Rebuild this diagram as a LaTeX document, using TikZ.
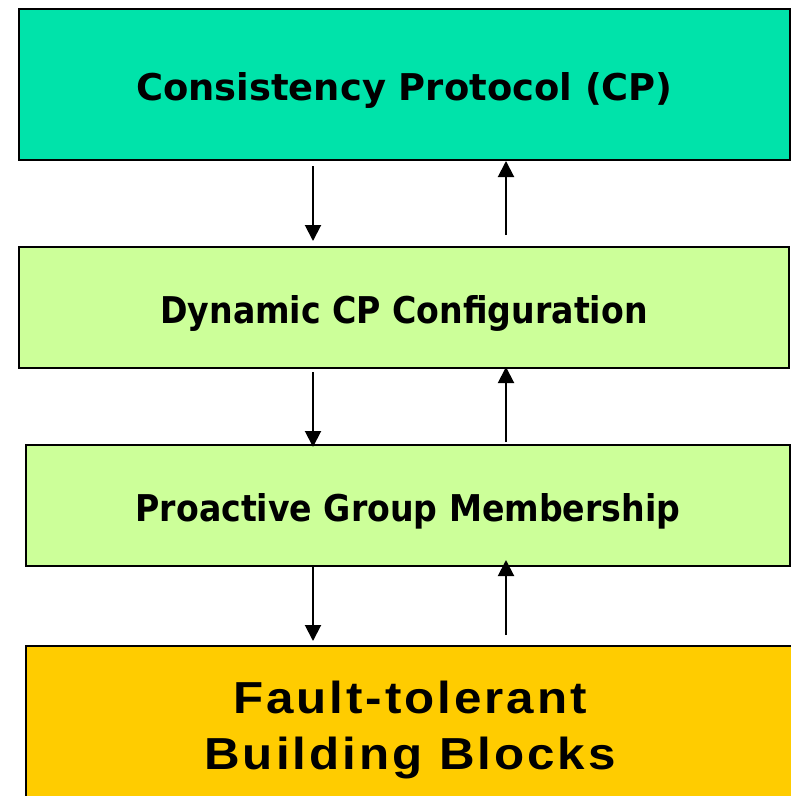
\documentclass[tikz,border=0pt]{standalone}
\usepackage{fontspec}
\usepackage{graphicx}
\setmainfont{DejaVu Sans}
\newfontfamily\narrowfont{DejaVu Sans Condensed}
\newfontfamily\blockfont[LetterSpace=6]{Liberation Sans}
\usetikzlibrary{arrows.meta}

\definecolor{cpteal}{RGB}{0,227,170}
\definecolor{layergreen}{RGB}{204,255,153}
\definecolor{basegold}{RGB}{255,204,0}

\tikzset{
  layer/.style={draw=black, line width=2.2bp, inner sep=0pt, outer sep=0pt,
    anchor=north west, align=center, text height=31bp, text depth=0pt,
    font=\fontsize{37}{44}\selectfont\bfseries},
  flow/.style={draw=black, line width=2bp,
    -{Triangle[width=16bp,length=16bp]}},
}

\begin{document}
\begin{tikzpicture}[x=1bp, y=-1bp]
  \useasboundingbox (0,0) rectangle (791,796);
  \clip (0,0) rectangle (791,796);

  % protocol stack, top to bottom
  \node[layer, fill=cpteal, minimum width=771bp, minimum height=151bp]
    (cp) at (19,9) {Consistency Protocol (CP)};
  \node[layer, fill=layergreen, minimum width=770bp, minimum height=121bp,
        font=\fontsize{37}{44}\selectfont\narrowfont\bfseries]
    (dyn) at (19,247) {Dynamic CP Configuration};
  \node[layer, fill=layergreen, minimum width=764bp, minimum height=121bp,
        font=\fontsize{37}{44}\selectfont\narrowfont\bfseries]
    (pgm) at (26,445) {Proactive Group Membership};
  \node[layer, fill=basegold, minimum width=768bp, minimum height=168bp,
        text height=, text depth=,
        font=\fontsize{45}{57}\selectfont\blockfont\bfseries]
    (ftbb) at (26,646)
    {\scalebox{1.1}[1]{Fault-tolerant}\\\scalebox{1.1}[1]{Building Blocks}};

  % columns for the downward and upward connectors
  \coordinate (downcol) at (313,0);
  \coordinate (upcol) at (506,0);

  \draw[flow] ([yshift=-6bp]cp.south -| downcol) -- ([yshift=6bp]dyn.north -| downcol);
  \draw[flow] ([yshift=12bp]dyn.north -| upcol) -- ([yshift=-1bp]cp.south -| upcol);

  \draw[flow] ([yshift=-4bp]dyn.south -| downcol) -- ([yshift=-2bp]pgm.north -| downcol);
  \draw[flow] ([yshift=3bp]pgm.north -| upcol) -- ([yshift=1bp]dyn.south -| upcol);

  \draw[flow] (pgm.south -| downcol) -- ([yshift=5bp]ftbb.north -| downcol);
  \draw[flow] ([yshift=11bp]ftbb.north -| upcol) -- ([yshift=6bp]pgm.south -| upcol);
\end{tikzpicture}
\end{document}
